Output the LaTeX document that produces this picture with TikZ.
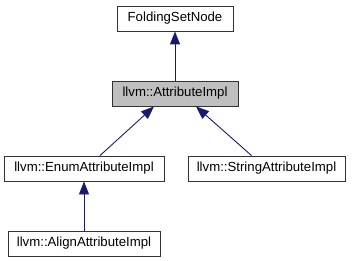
\documentclass[tikz,border=0pt]{standalone}
\usepackage{fontspec}
\setmainfont{Liberation Sans}
\usetikzlibrary{arrows.meta,calc}
\definecolor{edgeblue}{HTML}{191970}
\definecolor{curgray}{HTML}{BFBFBF}
\tikzset{
	cls/.style={draw=black!80,line width=0.9pt,fill=white,minimum height=25pt,inner sep=0pt,
		font=\fontsize{13.2}{15}\selectfont},
	inh/.style={draw=edgeblue,line width=0.9pt,-{Triangle[length=13pt,width=10pt]}}
}

\begin{document}
\begin{tikzpicture}[x=1pt,y=-1pt]
	\useasboundingbox (0,0) rectangle (352,261);

	\node[cls,minimum width=116pt] (fsn) at (175,18.5) {FoldingSetNode};
	\node[cls,minimum width=126pt,fill=curgray] (attr) at (175,93.5) {llvm::AttributeImpl};

	\node[cls,minimum width=160pt] (enum) at (84,168.5) {llvm::EnumAttributeImpl};
	\node[cls,minimum width=157pt] (str) at (266.5,168.5) {llvm::StringAttributeImpl};
	\node[cls,minimum width=152pt] (align) at (84,243.5) {llvm::AlignAttributeImpl};

	% inheritance edges, child -> base
	\draw[inh] (attr) -- (fsn);
	\draw[inh] ($(enum.north)+(16,0)$) -- ($(attr.south)+(-21,0)$);
	\draw[inh] ($(str.north)+(-15,0)$) -- ($(attr.south)+(21,0)$);
	\draw[inh] (align) -- (enum);
\end{tikzpicture}
\end{document}
